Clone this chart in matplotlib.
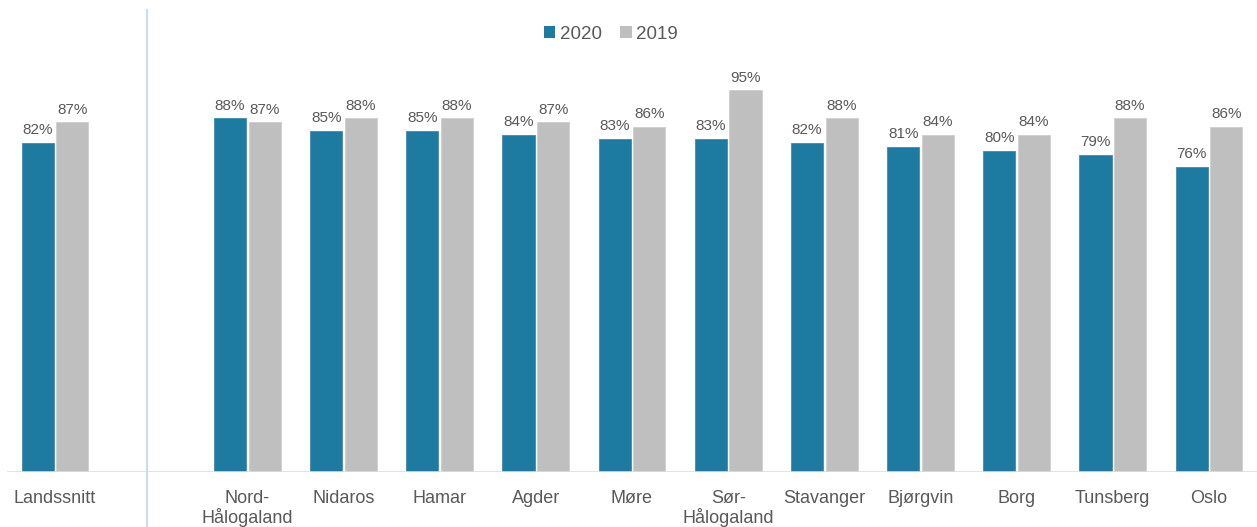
import numpy as np
import matplotlib
matplotlib.use("Agg")
from matplotlib import pyplot as plt
from matplotlib.patches import Patch

plt.rcParams['font.family'] = ['Liberation Sans', 'DejaVu Sans']

categories = ['Landssnitt', 'Nord-\nHålogaland', 'Nidaros', 'Hamar', 'Agder', 'Møre',
              'Sør-\nHålogaland', 'Stavanger', 'Bjørgvin', 'Borg', 'Tunsberg', 'Oslo']
values_2020 = [82, 88, 85, 85, 84, 83, 83, 82, 81, 80, 79, 76]
values_2019 = [87, 87, 88, 88, 87, 86, 95, 88, 84, 84, 88, 86]

blue = '#1d7ba2'
grey = '#bfbfbf'
text_col = '#595959'

# national average sits alone, regions start after an empty slot
x = np.array([0] + list(range(2, 2 + len(categories) - 1)), dtype=float)

fig = plt.figure(figsize=(12.57, 5.27), dpi=100)
ax = fig.add_axes([7 / 1257, 55 / 527, 1250 / 1257, 462 / 527])

w = 0.335
off = 0.18
b1 = ax.bar(x - off, values_2020, width=w, color=blue, edgecolor='#3a8db3', linewidth=0.6)
b2 = ax.bar(x + off, values_2019, width=w, color=grey, edgecolor='#cfcfcf', linewidth=0.6)

for bars, vals in ((b1, values_2020), (b2, values_2019)):
    for rect, v in zip(bars, vals):
        ax.annotate(f'{v}%', (rect.get_x() + rect.get_width() / 2, v),
                    xytext=(0, 4), textcoords='offset points',
                    ha='center', va='bottom', fontsize=11, color=text_col)

ax.set_xlim(-0.5, 12.5)
ax.set_ylim(0, 115)
ax.set_xticks(x)
ax.set_xticklabels(categories, fontsize=13, color=text_col, linespacing=1.05)
ax.tick_params(axis='x', length=0, pad=13)
ax.set_yticks([])
for s in ax.spines.values():
    s.set_visible(False)
ax.axhline(0, color='#d9dfe6', lw=1.2)

# separator between the average and the regions
ax.plot([0.955, 0.955], [-0.12, 1.0], color='#bfe0f0', lw=1.4,
        transform=ax.get_xaxis_transform(), clip_on=False)

handles = [Patch(facecolor=blue, label='2020'), Patch(facecolor=grey, label='2019')]
fig.legend(handles=handles, loc='center', bbox_to_anchor=(0.486, 0.935), ncol=2,
           frameon=False, fontsize=13.5, handlelength=0.6, handleheight=0.6,
           handletextpad=0.25, columnspacing=1.0, labelcolor=text_col)

fig.savefig('out.png', dpi=100)
